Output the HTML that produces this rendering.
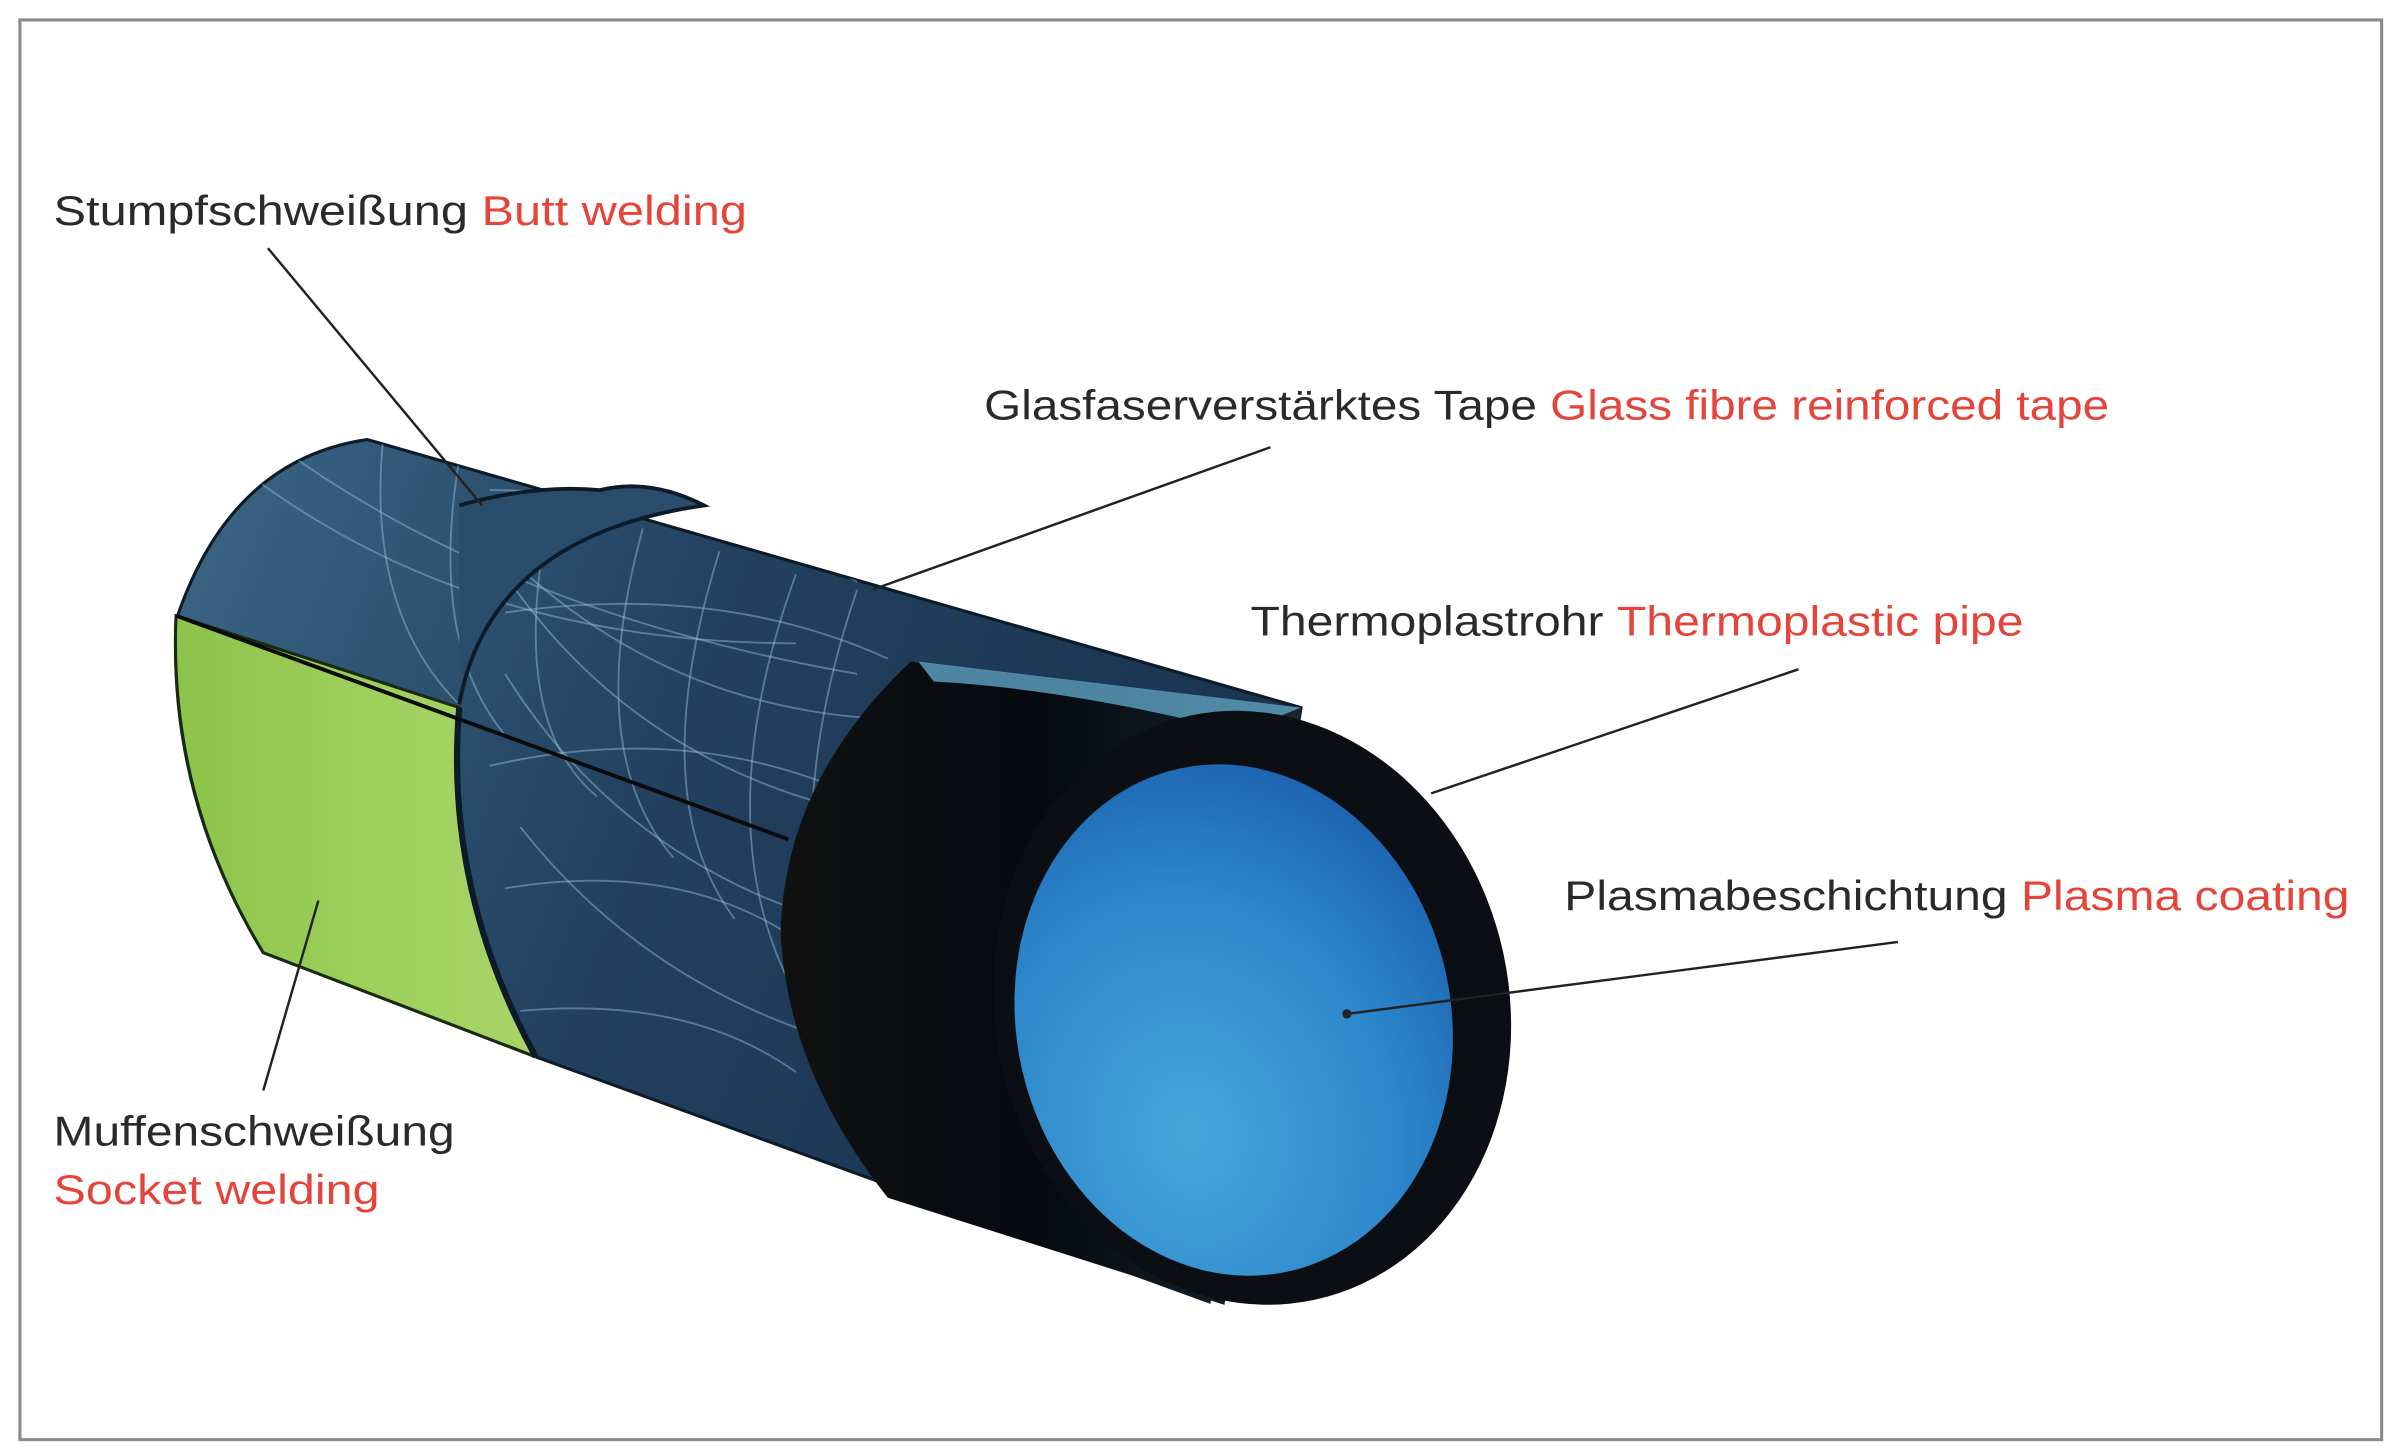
<!DOCTYPE html>
<html><head><meta charset="utf-8"><style>
html,body{margin:0;padding:0;background:#fff;width:2400px;height:1455px;overflow:hidden}
svg{display:block}
text{font-family:"Liberation Sans",Arial,sans-serif;font-size:27px;fill:#2a2a2a}
.r{fill:#e5443b}
</style></head><body>
<svg width="2400" height="1455" viewBox="0 0 1568 950" preserveAspectRatio="none" xmlns="http://www.w3.org/2000/svg">
<defs>
<linearGradient id="gb" x1="0" y1="0" x2="1" y2="0.3">
<stop offset="0" stop-color="#3b6785"/><stop offset="0.5" stop-color="#22415f"/><stop offset="1" stop-color="#1a3350"/></linearGradient>
<linearGradient id="gg" x1="0" y1="0" x2="1" y2="0">
<stop offset="0" stop-color="#8cc34a"/><stop offset="0.6" stop-color="#9fd05e"/><stop offset="1" stop-color="#a9d468"/></linearGradient>
<radialGradient id="gi" cx="0.35" cy="0.7" r="0.8">
<stop offset="0" stop-color="#45a6dc"/><stop offset="0.6" stop-color="#2d86c9"/><stop offset="1" stop-color="#1a5fae"/></radialGradient>
<linearGradient id="gk" x1="0" y1="0" x2="1" y2="0">
<stop offset="0" stop-color="#111"/><stop offset="0.5" stop-color="#050a10"/><stop offset="1" stop-color="#1a2530"/></linearGradient>
<clipPath id="cp"><path d="M240,287 L870,468 L780,850 L350,690 L172,622 Q110,520 115,405 Q150,300 240,287Z"/></clipPath>
</defs>
<rect x="13" y="13" width="1543" height="927" fill="#fff" stroke="#8a8a8a" stroke-width="2"/>
<path d="M240,287 L850,462 L790,850 L350,690 L172,622 Q110,520 115,405 Q150,300 240,287Z" fill="url(#gb)" stroke="#0d1a28" stroke-width="2"/>
<g clip-path="url(#cp)" stroke="#9cc6e0" stroke-opacity="0.45" stroke-width="1.2" fill="none">
<path d="M150,300 Q300,420 520,420"/><path d="M180,290 Q330,400 560,440"/><path d="M300,330 Q420,470 600,470"/>
<path d="M320,360 Q420,520 620,540"/><path d="M330,440 Q430,600 640,620"/><path d="M340,540 Q450,680 650,700"/>
<path d="M250,290 Q240,400 300,460"/><path d="M300,300 Q280,420 330,480"/><path d="M360,330 Q330,470 390,520"/>
<path d="M420,345 Q380,490 440,560"/><path d="M470,360 Q420,520 480,600"/><path d="M520,375 Q460,540 520,650"/>
<path d="M560,385 Q500,560 560,700"/><path d="M320,320 Q460,320 560,380"/><path d="M330,400 Q470,380 580,430"/>
<path d="M320,500 Q450,470 560,520"/><path d="M330,580 Q450,560 530,620"/><path d="M340,660 Q450,650 520,700"/>
</g>
<path d="M115,402 L300,462 Q290,580 350,690 L172,622 Q110,520 115,402Z" fill="url(#gg)" stroke="#1a2a10" stroke-width="2"/>
<path d="M300,330 Q350,316 392,320 Q425,312 460,330 Q320,350 300,460" fill="#2a4d6b" stroke="#0d1a28" stroke-width="2.5"/>
<path d="M300,462 Q290,580 350,690" fill="none" stroke="#0d1a28" stroke-width="4"/>
<line x1="115" y1="402" x2="515" y2="548" stroke="#0a0a0a" stroke-width="2.5"/>
<path d="M595,432 L850,462 L800,852 L580,782 Q515,700 510,610 Q512,510 595,432Z" fill="url(#gk)"/>
<path d="M600,432 L850,462 L810,478 Q700,450 610,445Z" fill="#5fa4c4" opacity="0.8"/>
<ellipse cx="818" cy="658" rx="168" ry="195" transform="rotate(-12 818 658)" fill="#0b0f14"/>
<ellipse cx="806" cy="666" rx="142" ry="168" transform="rotate(-12 806 666)" fill="url(#gi)"/>
<g stroke="#222" stroke-width="1.6" fill="none">
<line x1="175" y1="162" x2="315" y2="330"/>
<line x1="830" y1="292" x2="570" y2="385"/>
<line x1="1175" y1="437" x2="935" y2="518"/>
<line x1="1240" y1="615" x2="880" y2="662"/>
<line x1="172" y1="712" x2="208" y2="588"/>
</g>
<circle cx="880" cy="662" r="3" fill="#222"/>
<text x="35" y="147" textLength="453" lengthAdjust="spacingAndGlyphs">Stumpfschweißung <tspan class="r">Butt welding</tspan></text>
<text x="643" y="274" textLength="735" lengthAdjust="spacingAndGlyphs">Glasfaserverstärktes Tape <tspan class="r">Glass fibre reinforced tape</tspan></text>
<text x="817" y="415" textLength="505" lengthAdjust="spacingAndGlyphs">Thermoplastrohr <tspan class="r">Thermoplastic pipe</tspan></text>
<text x="1022" y="594" textLength="513" lengthAdjust="spacingAndGlyphs">Plasmabeschichtung <tspan class="r">Plasma coating</tspan></text>
<text x="35" y="748" textLength="262" lengthAdjust="spacingAndGlyphs">Muffenschweißung</text>
<text x="35" y="786" class="r" textLength="213" lengthAdjust="spacingAndGlyphs">Socket welding</text>
</svg>
</body></html>
